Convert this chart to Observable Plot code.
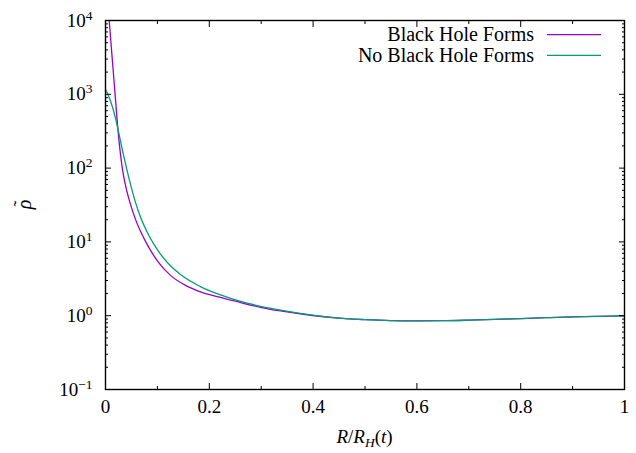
<!DOCTYPE html>
<html>
<head>
<meta charset="utf-8">
<script src="https://cdn.jsdelivr.net/npm/d3@7"></script>
<script src="https://cdn.jsdelivr.net/npm/@observablehq/plot@0.6"></script>
<style>
  html, body { margin: 0; padding: 0; background: #fff; }
  svg { display: block; }
</style>
</head>
<body>
<div id="chart"></div>
<script>
// ---- data ----
const seriesNames = ["Black Hole Forms", "No Black Hole Forms"];
const seriesColors = ["#9400d3", "#009e73"];

const bhX = [0.00713, 0.01156, 0.01541, 0.01927, 0.02312, 0.02505, 0.02697, 0.0289, 0.03083, 0.03468, 0.03854, 0.04817, 0.0578, 0.06744, 0.08285, 0.1021, 0.1252, 0.1541, 0.183, 0.2216, 0.2505, 0.2987, 0.3372, 0.3988, 0.45, 0.50, 0.55, 0.60, 0.65, 0.70, 0.75, 0.80, 0.85, 0.90, 0.95, 1.00];
const bhY = [10000, 4050, 1857, 851, 391, 277, 203, 153, 119, 79.6, 58.3, 32.2, 20.2, 13.9, 8.57, 5.28, 3.52, 2.58, 2.11, 1.77, 1.57, 1.30, 1.16, 1.006, 0.925, 0.885, 0.86, 0.853, 0.856, 0.87, 0.89, 0.915, 0.94, 0.963, 0.98, 0.995];

const nbhX = [0, 0.00385, 0.0106, 0.0154, 0.0202, 0.026, 0.0328, 0.0405, 0.0482, 0.0578, 0.0674, 0.0829, 0.1002, 0.1214, 0.1445, 0.183, 0.2216, 0.2505, 0.2987, 0.3372, 0.3988, 0.45, 0.50, 0.55, 0.60, 0.65, 0.70, 0.75, 0.80, 0.85, 0.90, 0.95, 1.00];
const nbhY = [1161, 1026, 774, 604, 443, 290, 173, 100, 60.1, 34.3, 21.7, 12.5, 7.78, 5.06, 3.61, 2.48, 1.91, 1.64, 1.34, 1.19, 1.02, 0.93, 0.885, 0.86, 0.853, 0.856, 0.87, 0.89, 0.915, 0.94, 0.963, 0.98, 0.995];

const xTicks = [0, 0.2, 0.4, 0.6, 0.8, 1];
const xTickLabels = ["0", "0.2", "0.4", "0.6", "0.8", "1"];
const xMinorTicks = [0.1, 0.3, 0.5, 0.7, 0.9];
const yTicks = [0.1, 1, 10, 100, 1000, 10000];
const yTickExponents = ["\u22121", "0", "1", "2", "3", "4"];
const yMinorMultipliers = [2, 3, 4, 5, 6, 7, 8, 9];

// ---- font detection (pick first installed serif face) ----
function fontAvailable(name) {
  const c = document.createElement("canvas").getContext("2d");
  const s = "Black Hole Forms 0.123456789";
  return ["monospace", "sans-serif"].some(fb => {
    c.font = `20px ${fb}`;
    const w0 = c.measureText(s).width;
    c.font = `20px "${name}", ${fb}`;
    return Math.abs(c.measureText(s).width - w0) > 0.5;
  });
}
const serifCandidates = ["Liberation Serif", "DejaVu Serif", "Times New Roman", "serif"];
const found = serifCandidates.filter(f => f === "serif" || fontAvailable(f));
const FONT = `"${found[0]}", serif`;

// ---- build tables ----
const bhData = bhX.map((x, i) => ({x, y: bhY[i]}));
const nbhData = nbhX.map((x, i) => ({x, y: nbhY[i]}));
const yMinorTicks = [];
for (const base of yTicks.slice(0, -1)) for (const m of yMinorMultipliers) yMinorTicks.push(base * m);

const blank = () => "";

const chart = Plot.plot({
  width: 636,
  height: 453,
  marginLeft: 105,
  marginRight: 12,
  marginTop: 20,
  marginBottom: 64,
  style: {fontFamily: FONT, fontSize: "19px", color: "#000", background: "#fff", overflow: "visible"},
  x: {domain: [0, 1]},
  y: {type: "log", domain: [0.1, 10000]},
  marks: [
    Plot.line(bhData, {x: "x", y: "y", stroke: seriesColors[0], strokeWidth: 1.3, curve: "monotone-x", clip: true}),
    Plot.line(nbhData, {x: "x", y: "y", stroke: seriesColors[1], strokeWidth: 1.3, curve: "monotone-x", clip: true}),
    Plot.axisY(yTicks, {anchor: "left", tickSize: 6, insetLeft: 6, tickPadding: 13, label: null,
      tickFormat: d => "10^" + yTickExponents[yTicks.indexOf(d)]}),
    Plot.axisY(yMinorTicks, {anchor: "left", tickSize: 3, insetLeft: 3, label: null, tickFormat: blank}),
    Plot.axisY(yTicks, {anchor: "right", tickSize: 6, insetRight: 6, label: null, tickFormat: blank}),
    Plot.axisY(yMinorTicks, {anchor: "right", tickSize: 3, insetRight: 3, label: null, tickFormat: blank}),
    Plot.axisX(xTicks, {anchor: "bottom", tickSize: 6, insetBottom: 6, tickPadding: 10, label: null,
      tickFormat: d => xTickLabels[xTicks.indexOf(d)]}),
    Plot.axisX(xMinorTicks, {anchor: "bottom", tickSize: 3, insetBottom: 3, label: null, tickFormat: blank}),
    Plot.axisX(xTicks, {anchor: "top", tickSize: 6, insetTop: 6, label: null, tickFormat: blank}),
    Plot.axisX(xMinorTicks, {anchor: "top", tickSize: 3, insetTop: 3, label: null, tickFormat: blank}),
    Plot.frame({stroke: "#000", strokeWidth: 1.4})
  ]
});

document.getElementById("chart").appendChild(chart);

const svgSel = d3.select(chart);
svgSel.selectAll("text").attr("font-family", FONT);

svgSel.selectAll("text").each(function () {
  const t = this.textContent;
  if (t && t.startsWith("10^")) {
    const exp = t.slice(3);
    const sel = d3.select(this);
    sel.text("10");
    sel.append("tspan").attr("dy", "-7").attr("font-size", "13.5px").text(exp);
  }
});

const frameLeft = 105, frameRight = 636 - 12, frameTop = 20, frameBottom = 453 - 64;

const xl = svgSel.append("text")
  .attr("x", (frameLeft + frameRight) / 2)
  .attr("y", 443)
  .attr("text-anchor", "middle")
  .attr("font-family", FONT)
  .attr("font-size", "19px")
  .attr("fill", "#000");
xl.append("tspan").attr("font-style", "italic").text("R");
xl.append("tspan").text("/");
xl.append("tspan").attr("font-style", "italic").text("R");
xl.append("tspan").attr("font-style", "italic").attr("font-size", "13.5px").attr("dy", "4").text("H");
xl.append("tspan").attr("dy", "-4").text("(");
xl.append("tspan").attr("font-style", "italic").text("t");
xl.append("tspan").text(")");

const yl = svgSel.append("g")
  .attr("transform", `translate(25,${(frameTop + frameBottom) / 2}) rotate(-90)`)
  .attr("font-family", FONT)
  .attr("fill", "#000");
yl.append("text").attr("text-anchor", "middle").attr("font-size", "20px").attr("font-style", "italic").attr("y", 6).text("\u03C1");
yl.append("text").attr("text-anchor", "middle").attr("font-size", "18px").attr("x", 1).attr("y", 2).text("\u02DC");

const legendRowsY = [34.7, 55.3];
seriesNames.forEach((name, i) => {
  svgSel.append("text")
    .attr("x", 534).attr("y", legendRowsY[i]).attr("dy", "0.32em")
    .attr("text-anchor", "end").attr("font-family", FONT).attr("font-size", "20px").attr("fill", "#000")
    .text(name);
  svgSel.append("line")
    .attr("x1", 547).attr("x2", 601)
    .attr("y1", legendRowsY[i]).attr("y2", legendRowsY[i])
    .attr("stroke", seriesColors[i]).attr("stroke-width", 1.3);
});
</script>
</body>
</html>
